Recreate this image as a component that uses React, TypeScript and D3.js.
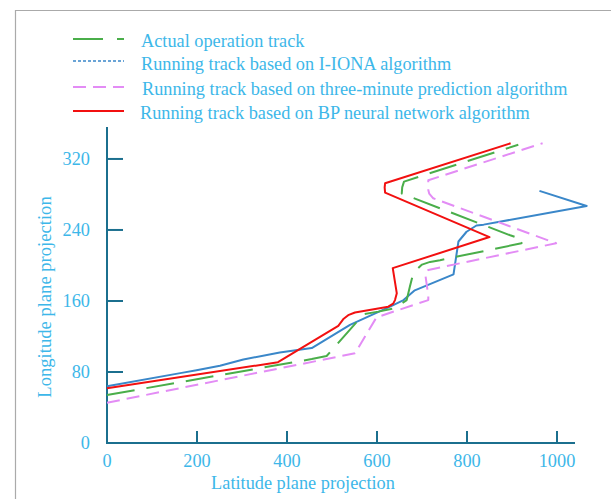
import React from "react";
import * as d3 from "d3";

type P = [number, number];

const xTicks = [0, 200, 400, 600, 800, 1000];
const yTicks = [0, 80, 160, 240, 320];

const actualTrack: P[] = [
  [0, 54], [455, 94.6], [488, 98], [570, 145], [603, 148], [640, 152], [666, 161],
  [673, 176], [681, 192], [700, 201], [718, 204], [740, 206], [921, 225], [925, 229],
  [896, 234], [655, 281], [656, 288], [660, 294.5], [914, 336],
];

const ionaTrack: P[] = [
  [0, 64], [166, 79], [199, 82], [251, 87], [303, 94], [384, 102], [455, 107],
  [540, 133], [629, 153.6], [659, 161], [684, 172], [770, 190], [781, 227],
  [799, 238], [821, 245], [837, 246], [1066, 267], [961, 284],
];

const threeMinTrack: P[] = [
  [0, 45.4], [551, 101], [599, 141.6], [714, 161], [714, 166], [707, 191],
  [714, 195], [998, 225], [725, 275.7], [716, 281], [714, 285], [714, 296], [968, 337.7],
];

const bpTrack: P[] = [
  [0, 61.6], [380, 91], [514, 132], [526, 140], [536, 144], [551, 147], [625, 153.6],
  [636, 157], [640, 161], [644, 168.6], [635, 197], [850, 232], [618, 282],
  [617, 288], [618, 292.6], [897, 337.7],
];

const seriesNames = [
  "Actual operation track",
  "Running track based on I-IONA algorithm",
  "Running track based on three-minute prediction algorithm",
  "Running track based on BP neural network algorithm",
];

const xLabel = "Latitude plane projection";
const yLabel = "Longitude plane projection";

const AXIS = "#1b6f8e";
const TXT = "#3db7e9";
const FONT = "'Liberation Serif', 'Times New Roman', serif";
const FS = 18.3;

export default function App() {
  const W = 611, H = 499;
  const x = d3.scaleLinear().domain([0, 1040]).range([107, 575]);
  const y = d3.scaleLinear().domain([0, 356]).range([443, 127]);
  const line = d3.line<P>().x((d) => x(d[0])).y((d) => y(d[1]));

  const series = [
    { data: ionaTrack, color: "#3a87c9", dash: null as string | null, legDash: "3,2", legW: 1.6 },
    { data: threeMinTrack, color: "#e38cf5", dash: "13,7", legDash: "13,7", legW: 2 },
    { data: actualTrack, color: "#4aae4a", dash: "28,12", legDash: "30,14", legW: 2 },
    { data: bpTrack, color: "#f21010", dash: null as string | null, legDash: null as string | null, legW: 2 },
  ];
  const legendOrder = [2, 0, 1, 3];
  const legendLineY = [39, 61, 87, 111];
  const legendTextY = [46.5, 69.5, 94.5, 118.5];
  const legendTextX = [141, 141, 142, 140];

  return (
    <svg
      width={W}
      height={H}
      style={{ position: "absolute", left: 0, top: 0, background: "#fff" }}
      fontFamily={FONT}
    >
      <rect x={0} y={0} width={W} height={H} fill="#fff" />
      {/* frame */}
      <line x1={15.5} y1={10} x2={15.5} y2={H} stroke="#aaa" strokeWidth={1.2} />
      <line x1={15} y1={10.5} x2={W} y2={10.5} stroke="#aaa" strokeWidth={1.2} />

      {/* axes */}
      <line x1={x(0)} y1={y(0)} x2={575} y2={y(0)} stroke={AXIS} strokeWidth={2} />
      <line x1={x(0)} y1={y(0) + 1} x2={x(0)} y2={127} stroke={AXIS} strokeWidth={2} />
      {xTicks.map((t) => (
        <g key={"xt" + t}>
          {t > 0 && (
            <line x1={x(t)} y1={y(0)} x2={x(t)} y2={y(0) - 12} stroke={AXIS} strokeWidth={2} />
          )}
          <text x={x(t)} y={467} fontSize={FS} fill={TXT} textAnchor="middle">
            {t}
          </text>
        </g>
      ))}
      {yTicks.map((t) => (
        <g key={"yt" + t}>
          {t > 0 && (
            <line x1={x(0)} y1={y(t)} x2={x(0) + 16} y2={y(t)} stroke={AXIS} strokeWidth={2} />
          )}
          <text x={90} y={y(t) + 6} fontSize={FS} fill={TXT} textAnchor="end">
            {t}
          </text>
        </g>
      ))}
      <text x={303} y={489} fontSize={FS} fill={TXT} textAnchor="middle">
        {xLabel}
      </text>
      <text
        transform="translate(51,297) rotate(-90)"
        fontSize={18.6}
        fill={TXT}
        textAnchor="middle"
      >
        {yLabel}
      </text>

      {/* series */}
      {series.map((s, i) => (
        <path
          key={"s" + i}
          d={line(s.data) || ""}
          fill="none"
          stroke={s.color}
          strokeWidth={2}
          strokeDasharray={s.dash || undefined}
          strokeLinejoin="round"
        />
      ))}

      {/* legend */}
      {legendOrder.map((si, r) => {
        const s = series[si];
        return (
          <g key={"lg" + r}>
            <line
              x1={73}
              y1={legendLineY[r]}
              x2={124}
              y2={legendLineY[r]}
              stroke={s.color}
              strokeWidth={s.legW}
              strokeDasharray={s.legDash || undefined}
            />
            <text x={legendTextX[r]} y={legendTextY[r]} fontSize={FS} fill={TXT}>
              {seriesNames[r]}
            </text>
          </g>
        );
      })}
    </svg>
  );
}
